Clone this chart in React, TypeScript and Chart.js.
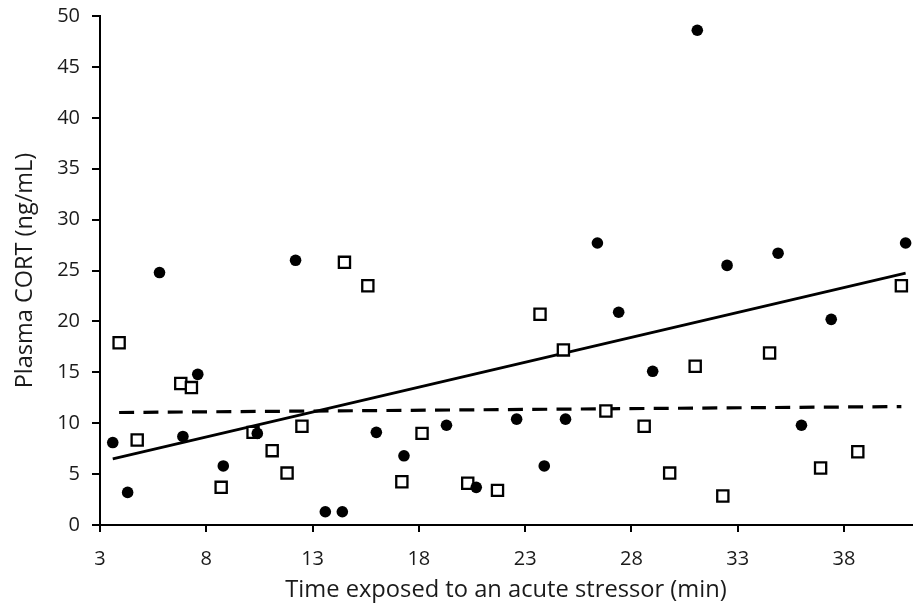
import React, { useEffect, useRef } from 'react';
import { Chart, registerables } from 'chart.js';

Chart.register(...registerables);

// Tick labels
const xTicks = [3, 8, 13, 18, 23, 28, 33, 38];
const yTicks = [0, 5, 10, 15, 20, 25, 30, 35, 40, 45, 50];

// Filled circles
const circleX = [3.6, 4.3, 5.8, 6.9, 7.6, 8.8, 10.4, 12.2, 13.6, 14.4, 16.0, 17.3, 19.3, 20.7, 22.6, 23.9, 24.9, 26.4, 27.4, 29.0, 31.1, 32.5, 34.9, 36.0, 37.4, 40.9];
const circleY = [8.1, 3.2, 24.8, 8.7, 14.8, 5.8, 9.0, 26.0, 1.3, 1.3, 9.1, 6.8, 9.8, 3.7, 10.4, 5.8, 10.4, 27.7, 20.9, 15.1, 48.6, 25.5, 26.7, 9.8, 20.2, 27.7];

// Open squares
const squareX = [3.9, 4.75, 6.8, 7.3, 8.7, 10.2, 11.1, 11.8, 12.5, 14.5, 15.6, 17.2, 18.15, 20.3, 21.7, 23.7, 24.8, 26.8, 28.6, 29.8, 31.0, 32.3, 34.5, 36.9, 38.65, 40.7];
const squareY = [17.9, 8.35, 13.9, 13.5, 3.7, 9.1, 7.3, 5.1, 9.7, 25.8, 23.5, 4.25, 9.0, 4.1, 3.4, 20.7, 17.2, 11.2, 9.7, 5.1, 15.6, 2.85, 16.9, 5.6, 7.2, 23.5];

const xTitle = 'Time exposed to an acute stressor (min)';
const yTitle = 'Plasma CORT (ng/mL)';

function toPoints(xs: number[], ys: number[]) {
  return xs.map((x, i) => ({ x, y: ys[i] }));
}

// Least-squares trend line across the data's x range
function trend(xs: number[], ys: number[]) {
  const n = xs.length;
  const mx = xs.reduce((a, b) => a + b, 0) / n;
  const my = ys.reduce((a, b) => a + b, 0) / n;
  let sxy = 0;
  let sxx = 0;
  for (let i = 0; i < n; i++) {
    sxy += (xs[i] - mx) * (ys[i] - my);
    sxx += (xs[i] - mx) * (xs[i] - mx);
  }
  const b = sxy / sxx;
  const a = my - b * mx;
  const lo = Math.min(...xs);
  const hi = Math.max(...xs);
  return [
    { x: lo, y: a + b * lo },
    { x: hi, y: a + b * hi },
  ];
}

const FONT = "'Open Sans', 'Noto Sans', sans-serif";
const TEXT = '#1a1a1a';

export default function App() {
  const ref = useRef<HTMLCanvasElement | null>(null);

  useEffect(() => {
    document.body.style.margin = '0';
    const canvas = ref.current;
    if (!canvas) return;
    const chart = new Chart(canvas, {
      type: 'scatter',
      data: {
        datasets: [
          {
            label: 'circles',
            data: toPoints(circleX, circleY),
            pointStyle: 'circle',
            pointRadius: 5.8,
            pointHoverRadius: 5.8,
            backgroundColor: '#000',
            borderColor: '#000',
            borderWidth: 0,
            clip: false,
          },
          {
            label: 'squares',
            data: toPoints(squareX, squareY),
            pointStyle: 'rect',
            pointRadius: 7.9,
            pointHoverRadius: 7.9,
            backgroundColor: '#fff',
            borderColor: '#000',
            borderWidth: 2.3,
            clip: false,
          },
          {
            label: 'circle trend',
            type: 'line',
            data: trend(circleX, circleY),
            showLine: true,
            pointRadius: 0,
            borderColor: '#000',
            borderWidth: 2.8,
            fill: false,
          },
          {
            label: 'square trend',
            type: 'line',
            data: trend(squareX, squareY),
            showLine: true,
            pointRadius: 0,
            borderColor: '#000',
            borderWidth: 3.2,
            borderDash: [15, 9.3],
            borderCapStyle: 'butt',
            fill: false,
          },
        ],
      },
      options: {
        responsive: false,
        animation: false,
        events: [],
        layout: { autoPadding: false, padding: { left: 0, right: 2, top: 16, bottom: 0 } },
        plugins: {
          legend: { display: false },
          tooltip: { enabled: false },
        },
        scales: {
          x: {
            type: 'linear',
            min: 3,
            max: 41.2,
            afterBuildTicks: (s: any) => {
              s.ticks = xTicks.map((v) => ({ value: v }));
            },
            afterFit: (s: any) => {
              s.height = 83;
              s.paddingLeft = 0;
              s.paddingRight = 0;
            },
            grid: {
              drawOnChartArea: false,
              drawTicks: true,
              tickLength: 7,
              color: '#000',
              lineWidth: 2,
            },
            border: { display: true, color: '#000', width: 2 },
            ticks: {
              color: TEXT,
              font: { family: FONT, size: 20 },
              padding: 15,
              maxRotation: 0,
              autoSkip: false,
            },
            title: {
              display: true,
              text: xTitle,
              color: TEXT,
              font: { family: FONT, size: 23.7 },
              padding: { top: 0, bottom: 4 },
            },
          },
          y: {
            type: 'linear',
            min: 0,
            max: 50,
            afterBuildTicks: (s: any) => {
              s.ticks = yTicks.map((v) => ({ value: v }));
            },
            afterFit: (s: any) => {
              s.width = 100;
              s.paddingTop = 0;
              s.paddingBottom = 0;
            },
            grid: {
              drawOnChartArea: false,
              drawTicks: true,
              tickLength: 8,
              color: '#000',
              lineWidth: 2,
            },
            border: { display: true, color: '#000', width: 2 },
            ticks: {
              color: TEXT,
              font: { family: FONT, size: 20 },
              padding: 12,
              autoSkip: false,
            },
            title: {
              display: true,
              text: yTitle,
              color: TEXT,
              font: { family: FONT, size: 23.5 },
              padding: { top: 11, bottom: 0 },
            },
          },
        },
      },
    } as any);
    return () => chart.destroy();
  }, []);

  return (
    <div style={{ position: 'fixed', left: 0, top: 0, width: 914, height: 608, background: '#fff' }}>
      <canvas ref={ref} width={914} height={608} style={{ width: 914, height: 608, display: 'block' }} />
    </div>
  );
}
